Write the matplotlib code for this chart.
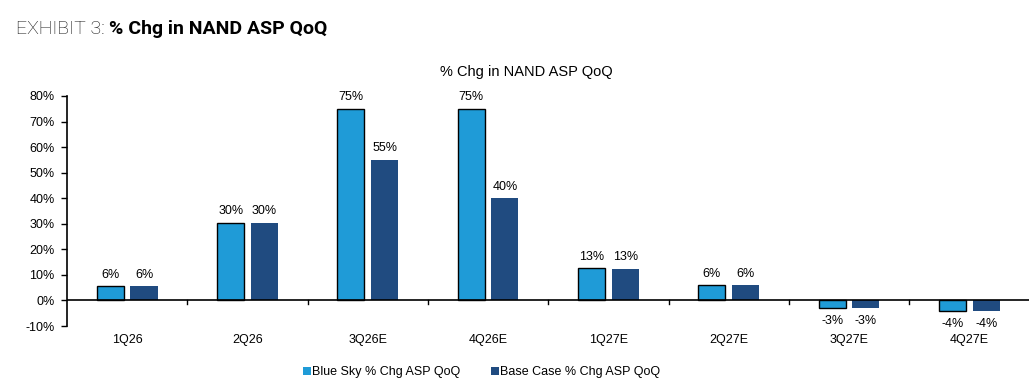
import numpy as np
import matplotlib.pyplot as plt

plt.rcParams['font.family'] = ['Liberation Sans', 'DejaVu Sans']

# Data
quarters = ["1Q26", "2Q26", "3Q26E", "4Q26E", "1Q27E", "2Q27E", "3Q27E", "4Q27E"]
blue_sky = [5.6, 30.4, 75.0, 75.0, 12.6, 6.0, -3.0, -4.0]
base_case = [5.5, 30.3, 55.0, 40.0, 12.5, 6.0, -3.0, -4.0]
blue_sky_labels = ["6%", "30%", "75%", "75%", "13%", "6%", "-3%", "-4%"]
base_case_labels = ["6%", "30%", "55%", "40%", "13%", "6%", "-3%", "-4%"]

LIGHT = "#1F9BD7"
DARK = "#204B80"

fig = plt.figure(figsize=(10.36, 3.9), dpi=100)
ax = fig.add_axes([0.0647, 0.164, 0.929, 0.59])

x = np.arange(len(quarters))
w = 0.225
off = 0.14
b1 = ax.bar(x - off, blue_sky, w, color=LIGHT, edgecolor="black", linewidth=1.0,
            label="Blue Sky % Chg ASP QoQ")
b2 = ax.bar(x + off, base_case, w, color=DARK, edgecolor="none",
            label="Base Case % Chg ASP QoQ")

# value labels
for bars, labels in ((b1, blue_sky_labels), (b2, base_case_labels)):
    for rect, lab in zip(bars, labels):
        h = rect.get_height()
        cx = rect.get_x() + rect.get_width() / 2
        if h >= 0:
            ax.annotate(lab, (cx, h), xytext=(0, 4), textcoords="offset points",
                        ha="center", va="bottom", fontsize=9)
        else:
            ax.annotate(lab, (cx, h), xytext=(0, -5), textcoords="offset points",
                        ha="center", va="top", fontsize=9)

ax.set_xlim(-0.5, len(quarters) - 0.5)
ax.set_ylim(-10, 80)
ax.set_yticks(np.arange(-10, 81, 10))
ax.set_yticklabels([f"{v}%" for v in range(-10, 81, 10)], fontsize=9)
ax.tick_params(axis="y", length=4, width=1, direction="out", pad=5)

for s in ("top", "right", "bottom"):
    ax.spines[s].set_visible(False)
ax.spines["left"].set_linewidth(1.2)

# zero line with category separator ticks
ax.axhline(0, color="black", linewidth=1.2)
for b in np.arange(0.5, len(quarters) - 0.5, 1):
    ax.plot([b, b], [0, -1.3], color="black", linewidth=1)

ax.set_xticks([])
for i, q in enumerate(quarters):
    ax.text(i, -15.3, q, ha="center", va="center", fontsize=9)

fig.text(0.508, 0.815, "% Chg in NAND ASP QoQ", fontsize=10.5, ha="center", va="center")

leg = fig.legend(loc="center", bbox_to_anchor=(0.465, 0.046), ncol=2, frameon=False,
                 fontsize=9, handlelength=0.6, handleheight=0.6, handletextpad=0.1,
                 columnspacing=2.5)
for h in leg.legend_handles:
    h.set_edgecolor("none")

fig.text(0.015, 0.925, "EXHIBIT 3: ", fontsize=14, family=["Roboto", "DejaVu Sans"],
         fontweight="light", color="#111111", va="center")
fig.text(0.105, 0.925, "% Chg in NAND ASP QoQ", fontsize=14,
         family=["Roboto", "DejaVu Sans"], fontweight="bold", color="black", va="center")

fig.savefig("out.png", dpi=100)
